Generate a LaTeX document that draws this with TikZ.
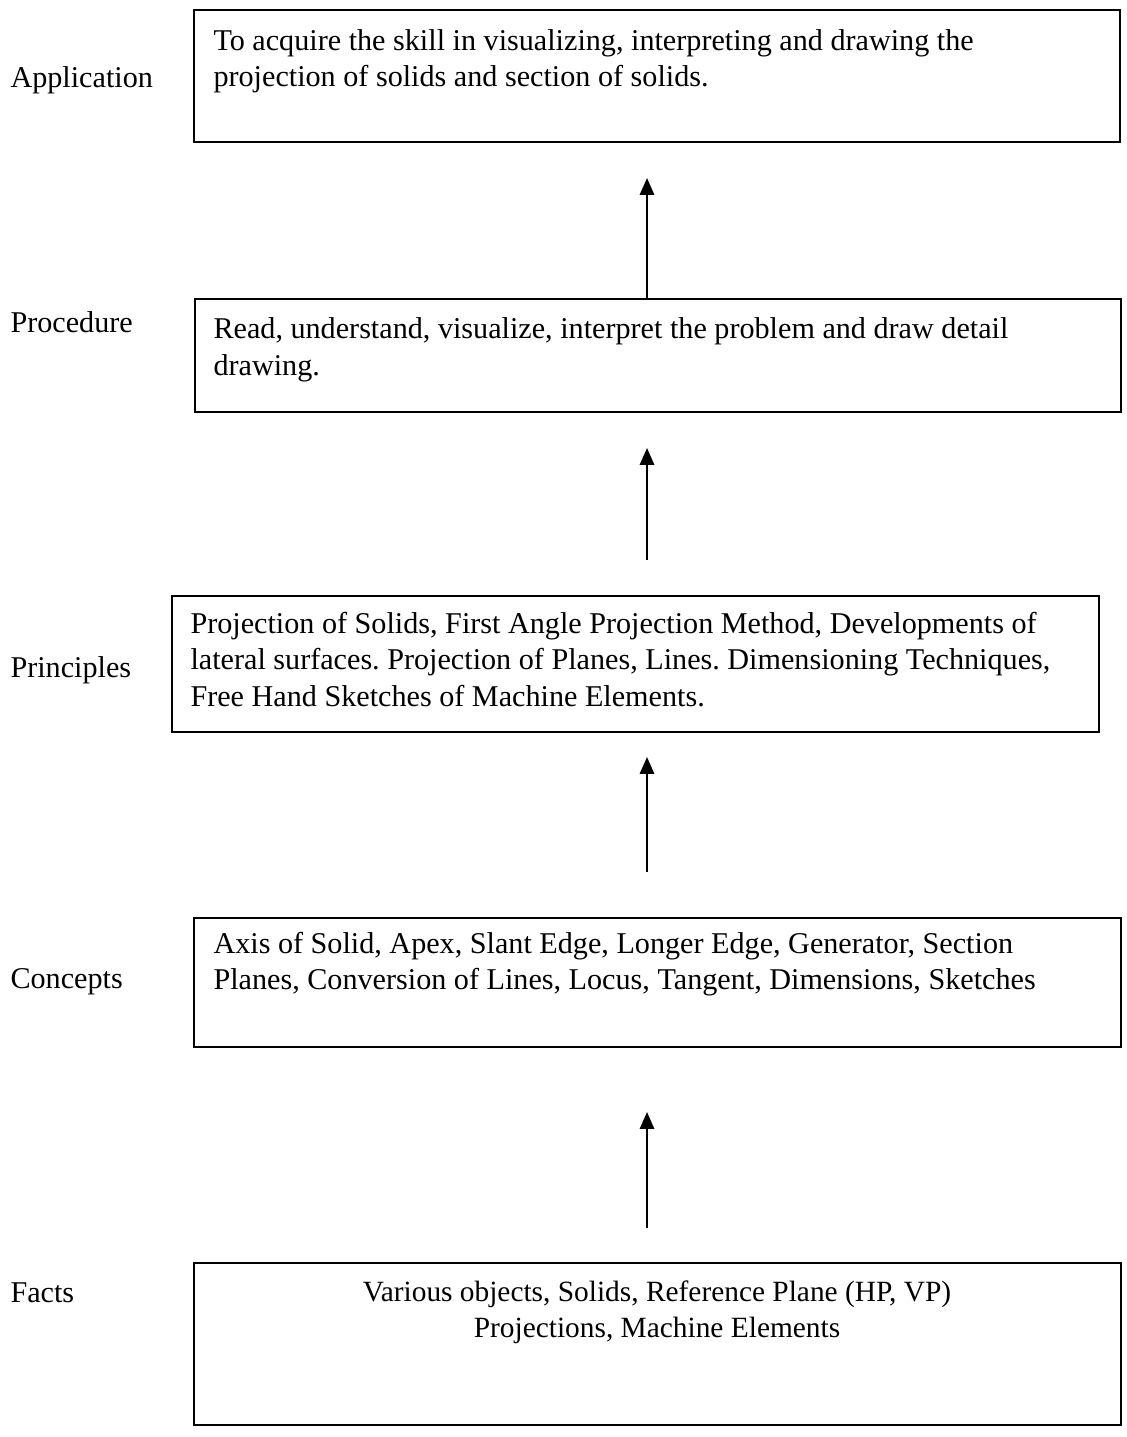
\documentclass[tikz,border=0pt]{standalone}
\usepackage{fontspec}
\setmainfont{Liberation Serif}
\usetikzlibrary{arrows.meta}
\frenchspacing

\begin{document}
\begin{tikzpicture}[x=0.3846pt, y=-0.3846pt,
    box/.style = {draw, line width=0.8pt, inner sep=0pt},
    boxtext/.style = {anchor=base west, align=left, inner sep=0pt, font=\fontsize{11.6}{13.85}\selectfont},
    level/.style = {anchor=base west, inner sep=0pt, font=\fontsize{11.6}{13.85}\selectfont},
    uparrow/.style = {line width=0.8pt, -{Triangle[width=5.5pt,length=6.5pt]}}]
            \useasboundingbox (0,0) rectangle (1126,1437);

            % boxes
            \node[box, minimum width=356.1pt, minimum height=50.8pt] (app) at (657,76) {};
            \node[box, minimum width=356.1pt, minimum height=43.5pt] (proc) at (658,355.5) {};
            \node[box, minimum width=356.5pt, minimum height=52.3pt] (princ) at (635.5,664) {};
            \node[box, minimum width=356.5pt, minimum height=49.6pt] (conc) at (657.5,982.5) {};
            \node[box, minimum width=356.5pt, minimum height=62.3pt] (facts) at (657.5,1344) {};

            % texts in the boxes (placed at the baseline of the last line)
            \node[boxtext] (apptext) at (213,87) {To acquire the skill in visualizing, interpreting and drawing the\\projection of solids and section of solids.};
            \node[boxtext] (proctext) at (213,375) {Read, understand, visualize, interpret the problem and draw detail\\drawing.};
            \node[boxtext] (princtext) at (190,706) {Projection of Solids, First Angle Projection Method, Developments of\\lateral surfaces. Projection of Planes, Lines. Dimensioning Techniques,\\Free Hand Sketches of Machine Elements.};
            \node[boxtext] (conctext) at (213,989) {Axis of Solid, Apex, Slant Edge, Longer Edge, Generator, Section\\Planes, Conversion of Lines, Locus, Tangent, Dimensions, Sketches};
            \node[boxtext, anchor=base, align=center, font=\fontsize{11.3}{13.85}\selectfont] (factstext) at (657,1337) {Various objects, Solids, Reference Plane (HP, VP)\\Projections, Machine Elements};

            % level names
            \node[level] (lapp) at (10,88) {Application};
            \node[level] (lproc) at (10,333) {Procedure};
            \node[level] (lprinc) at (10,677) {Principles};
            \node[level] (lconc) at (10,988) {Concepts};
            \node[level] (lfacts) at (10,1302) {Facts};

            % arrows
            \coordinate (t1) at (647,178);
            \coordinate (s2) at (647,560);
            \coordinate (t2) at (647,448);
            \coordinate (s3) at (647,872);
            \coordinate (t3) at (647,757);
            \coordinate (s4) at (647,1228);
            \coordinate (t4) at (647,1112);
            \draw[uparrow] (t1 |- proc.north) -- (t1);
            \draw[uparrow] (s2) -- (t2);
            \draw[uparrow] (s3) -- (t3);
            \draw[uparrow] (s4) -- (t4);
\end{tikzpicture}
\end{document}
